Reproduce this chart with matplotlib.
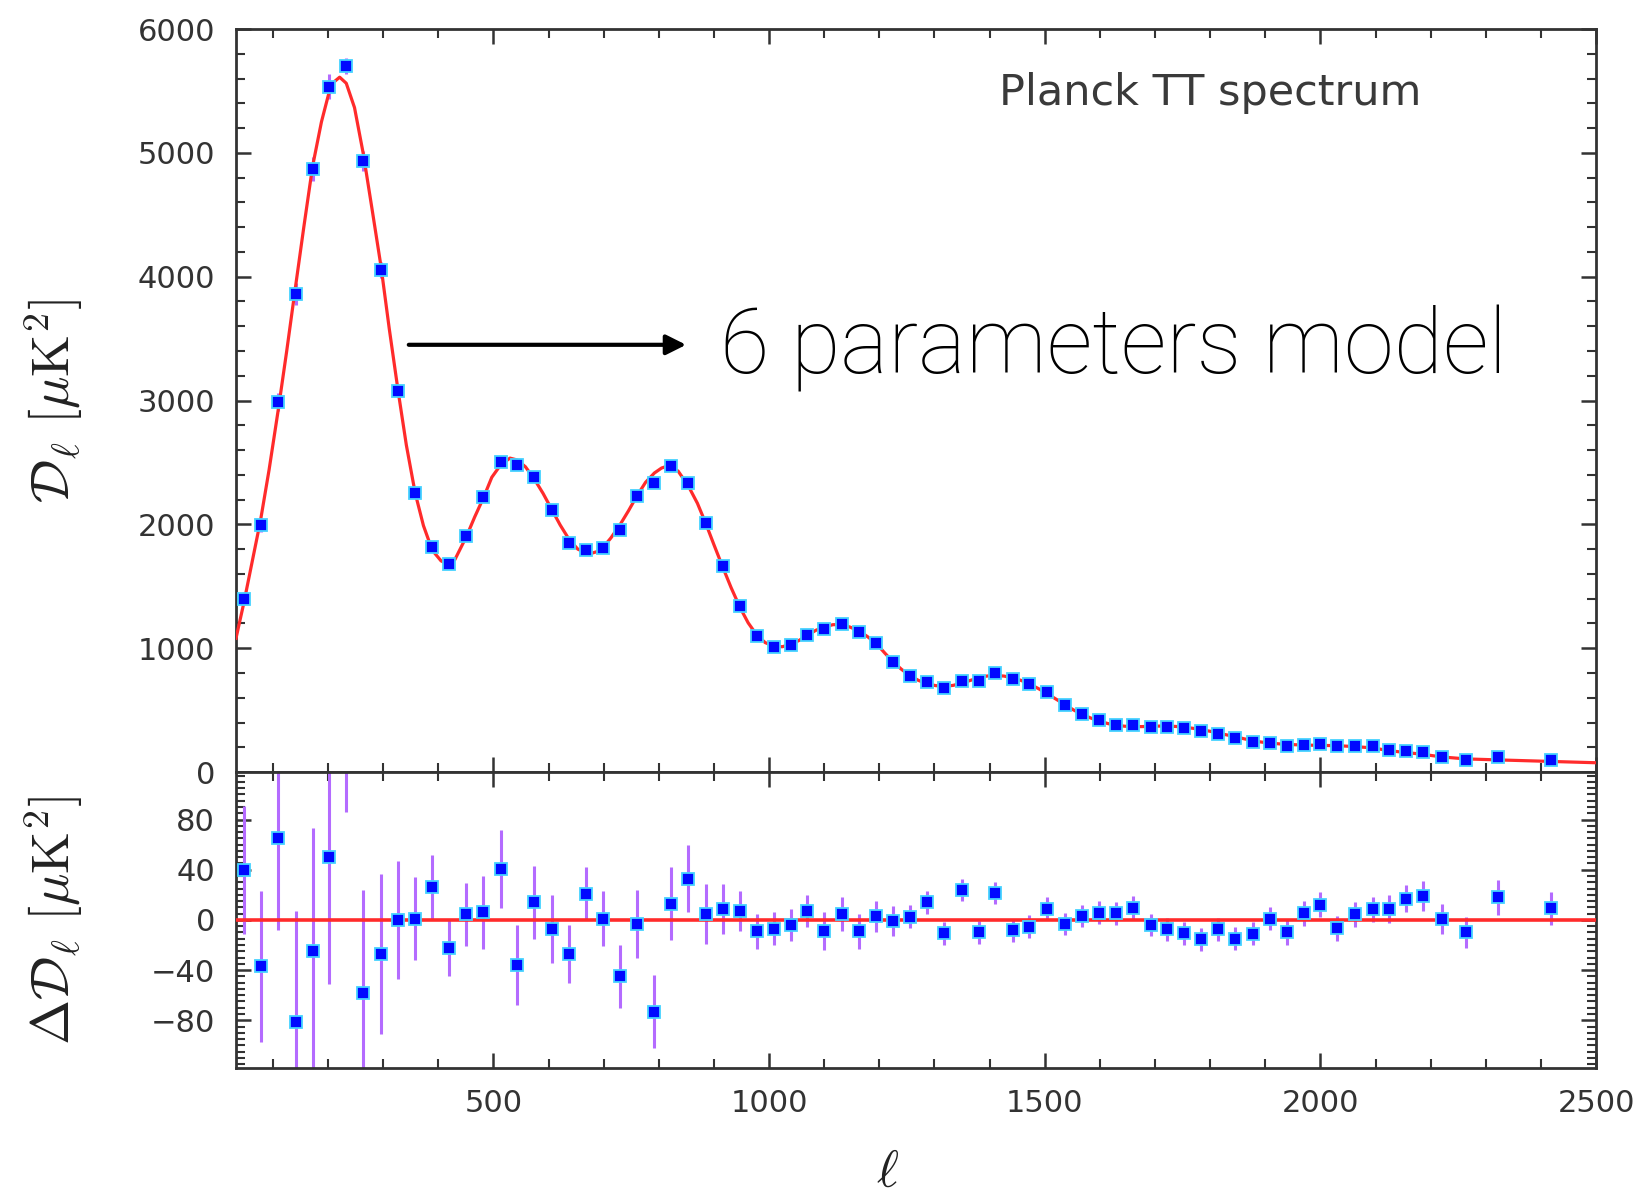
import matplotlib
matplotlib.use('agg')
import matplotlib.pyplot as plt
from matplotlib.ticker import MultipleLocator

plt.rcParams['mathtext.fontset'] = 'cm'

# binned Planck TT band powers
ell = [47, 77.5, 109.5, 141, 172, 201.5, 233, 264, 296, 327,
       358, 389, 419, 451, 481.5, 513, 543, 573.5, 605.6, 637,
       668, 698, 729.6, 760, 792, 822, 853.5, 885, 916, 947,
       978, 1009, 1039, 1069, 1100, 1132, 1163, 1194, 1224, 1256,
       1287, 1318, 1350, 1380, 1410, 1442, 1472, 1504, 1537, 1568,
       1598, 1629, 1660, 1692, 1722, 1753, 1784, 1814, 1846, 1878,
       1908, 1940, 1970, 2000, 2031, 2063, 2095, 2125, 2156, 2186,
       2220, 2264, 2322, 2418]
dl = [1401, 1995, 2986, 3862, 4868, 5533, 5704, 4936, 4057, 3079,
      2254, 1817, 1681, 1906, 2217, 2500, 2482, 2384, 2114, 1852,
      1792, 1811, 1952, 2225, 2338, 2468, 2333, 2014, 1663, 1338,
      1095, 1006, 1022, 1108, 1157, 1195, 1130, 1041, 892, 779,
      724, 676, 735, 735, 803, 752, 711, 643, 541, 468,
      418, 376, 376, 362, 366, 357, 330, 308, 271, 241,
      235, 214, 222, 227, 208, 208, 208, 181, 173, 160,
      119, 95, 119, 95]
dl_err = [51, 60, 73, 88, 98, 101, 64, 82, 64, 47,
          33, 26, 23, 25, 29, 31, 32, 29, 27, 23,
          21, 22, 25, 27, 29, 29, 27, 24, 20, 16,
          14, 13, 13, 13, 15, 13.6, 14, 12.4, 12, 9,
          9, 9, 9, 9, 9, 9, 9, 9, 9, 9,
          9, 9, 9, 9, 9, 9, 9, 9, 9, 9,
          9, 10, 10, 10, 10, 10, 10, 11, 11, 12,
          12, 12, 14, 13]
resid = [40, -37, 65, -81, -25, 50, 150, -58, -27, 0,
         1, 26, -22, 4.5, 6, 40.5, -36, 14, -7, -27,
         21, 1, -45, -3, -73, 13, 33, 5, 9, 7,
         -9, -7, -4, 7, -9, 5, -9, 3, -1, 2.7,
         14, -10.6, 24, -10, 21.4, -8.2, -5.3, 9.1, -3.4, 3.2,
         5.9, 5.3, 9.9, -4, -7.4, -10.6, -15.4, -7.4, -14.9, -10.9,
         1, -10, 5.3, 12, -6.8, 4.6, 8.5, 8.5, 17, 19.3,
         0.5, -10, 17.9, 9.3]

# best-fit 6 parameter model curve
model_ell = [33, 47, 62, 77.5, 93, 109.5, 125, 141, 156, 172,
             188, 201.5, 210, 221, 233, 248, 264, 280, 296, 311,
             327, 342, 358, 373, 389, 405, 416, 430, 451, 466,
             481.5, 497, 513, 530, 543, 558, 573.5, 590, 605.6, 621,
             637, 653, 673, 688, 698, 713, 729.6, 745, 760, 776,
             792, 805, 818, 835, 853.5, 870, 885, 900, 916, 931,
             947, 962, 978, 993, 1009, 1024, 1039, 1054, 1069, 1085,
             1100, 1116, 1132, 1147, 1163, 1178, 1194, 1209, 1224, 1240,
             1256, 1271, 1287, 1302, 1318, 1334, 1350, 1365, 1380, 1395,
             1410, 1426, 1442, 1457, 1472, 1488, 1504, 1520, 1537, 1552,
             1568, 1583, 1598, 1614, 1629, 1645, 1660, 1676, 1692, 1707,
             1722, 1738, 1753, 1769, 1784, 1799, 1814, 1830, 1846, 1862,
             1878, 1893, 1908, 1924, 1940, 1970, 2000, 2031, 2063, 2095,
             2125, 2156, 2186, 2220, 2264, 2322, 2418, 2500]
model_dl = [1080, 1361, 1690, 2032, 2440, 2921, 3400, 3920, 4400, 4893,
            5250, 5483, 5570, 5611, 5562, 5365, 4990, 4540, 4084, 3580,
            3079, 2640, 2253, 1990, 1791, 1705, 1682, 1715, 1902, 2060,
            2211, 2380, 2480, 2535, 2520, 2465, 2370, 2250, 2121, 1995,
            1880, 1800, 1760, 1780, 1810, 1890, 1997, 2110, 2228, 2340,
            2415, 2455, 2474, 2430, 2310, 2170, 2009, 1835, 1654, 1490,
            1331, 1205, 1104, 1045, 1015, 1012, 1030, 1062, 1103, 1145,
            1172, 1190, 1190, 1170, 1140, 1095, 1040, 965, 893, 830,
            776, 740, 712, 698, 692, 700, 718, 740, 760, 775,
            780, 775, 760, 740, 712, 675, 634, 590, 544, 502,
            465, 437, 413, 392, 378, 370, 367, 367, 369, 371,
            371, 368, 362, 353, 342, 330, 315, 300, 285, 268,
            253, 242, 234, 228, 223, 218, 215, 213, 205, 195,
            172, 157, 143, 122, 106, 98, 86, 75]

point_col = '#0008ff'
halo_col = '#45d2ff'
bar_col = '#b46bff'
line_col = '#ff2b2b'
frame_col = '#333333'

fig = plt.figure(figsize=(16.4, 11.99), dpi=100)
ax1 = fig.add_axes([0.1439, 0.3561, 0.8293, 0.6197])
ax2 = fig.add_axes([0.1439, 0.1093, 0.8293, 0.2469], sharex=ax1)

# top panel
ax1.errorbar(ell, dl, yerr=dl_err, fmt='none', ecolor=bar_col, elinewidth=2.2, zorder=2)
ax1.plot(model_ell, model_dl, color=line_col, lw=2.3, zorder=3)
ax1.plot(ell, dl, 's', ms=8, mfc=point_col, mec=halo_col, mew=1.3, zorder=4)
ax1.set_ylim(0, 6000)
ax1.set_xlim(33, 2500)
ax1.yaxis.set_major_locator(MultipleLocator(1000))
ax1.yaxis.set_minor_locator(MultipleLocator(200))

# residual panel
ax2.errorbar(ell, resid, yerr=dl_err, fmt='none', ecolor=bar_col, elinewidth=2.2, zorder=2)
ax2.axhline(0, color=line_col, lw=2.6, zorder=3)
ax2.plot(ell, resid, 's', ms=8, mfc=point_col, mec=halo_col, mew=1.3, zorder=4)
ax2.set_ylim(-118, 118)
ax2.yaxis.set_major_locator(MultipleLocator(40))
ax2.yaxis.set_minor_locator(MultipleLocator(5))

for ax in (ax1, ax2):
    ax.xaxis.set_major_locator(MultipleLocator(500))
    ax.xaxis.set_minor_locator(MultipleLocator(100))
    for s in ax.spines.values():
        s.set_color(frame_col)
        s.set_linewidth(2)
    ax.tick_params(which='both', direction='in', top=True, right=True,
                   color=frame_col, labelcolor=frame_col, labelsize=22)
    ax.tick_params(which='major', length=11, width=1.8, pad=15)
    ax.tick_params(which='minor', length=6.5, width=1.5)
ax1.tick_params(labelbottom=False)

ax1.set_ylabel(r'$\mathcal{D}_\ell\ [\mu\mathrm{K}^2]$', fontsize=39, color='#222222',
               va='center')
ax1.yaxis.set_label_coords(-0.134, 0.5)
ax2.set_ylabel(r'$\Delta\mathcal{D}_\ell\ [\mu\mathrm{K}^2]$', fontsize=39, color='#222222',
               va='center')
ax2.yaxis.set_label_coords(-0.134, 0.5)
ax2.set_xlabel(r'$\ell$', fontsize=38, color='#222222', va='center')
ax2.xaxis.set_label_coords(0.479, -0.35)

ax1.text(0.561, 0.898, 'Planck TT spectrum', transform=ax1.transAxes,
         fontsize=31, color='#3a3a3a', va='baseline', ha='left')

ax1.annotate('', xy=(0.333, 0.575), xytext=(0.125, 0.575), xycoords='axes fraction',
             arrowprops=dict(arrowstyle='-|>', color='black', lw=3, mutation_scale=30))
ax1.text(0.356, 0.537, '6 parameters model', transform=ax1.transAxes,
         fontsize=65, family=['Roboto', 'DejaVu Sans'], weight='light',
         color='black', va='baseline', ha='left')

fig.savefig('out.png', dpi=100)
